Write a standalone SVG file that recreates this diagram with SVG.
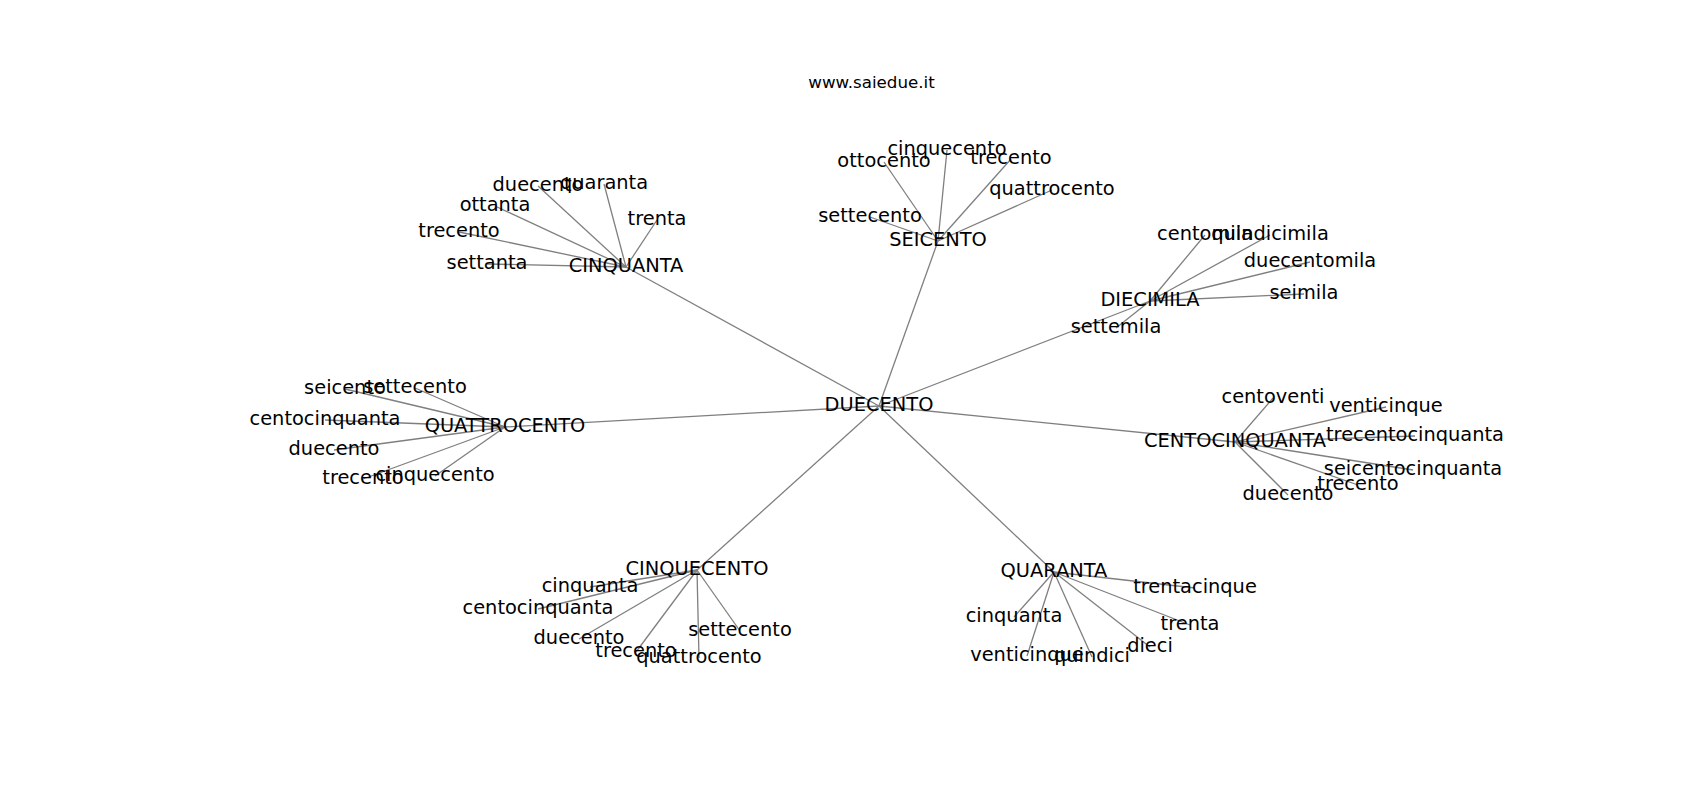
<svg xmlns="http://www.w3.org/2000/svg" width="1700" height="800" viewBox="0 0 1700 800">
<style>
.bg{fill:#ffffff}
.e line{stroke:#7f7f7f;stroke-width:1.3;fill:none}
.n text{font-family:"DejaVu Sans","Liberation Sans",sans-serif;font-size:19.4px;fill:#000000;text-anchor:middle}
.title{font-family:"DejaVu Sans","Liberation Sans",sans-serif;font-size:16.7px;fill:#000000;text-anchor:middle}
</style>
<rect class="bg" x="0" y="0" width="1700" height="800"/>
<text class="title" x="871.5" y="87.5">www.saiedue.it</text>
<g id="edges" class="e">
<line x1="879" y1="406" x2="626" y2="267"/>
<line x1="879" y1="406" x2="938" y2="241"/>
<line x1="879" y1="406" x2="1150" y2="301"/>
<line x1="879" y1="406" x2="505" y2="427"/>
<line x1="879" y1="406" x2="1235" y2="442"/>
<line x1="879" y1="406" x2="697" y2="570"/>
<line x1="879" y1="406" x2="1054" y2="572"/>
<line x1="626" y1="267" x2="487" y2="264"/>
<line x1="626" y1="267" x2="459" y2="232"/>
<line x1="626" y1="267" x2="495" y2="206"/>
<line x1="626" y1="267" x2="538" y2="186"/>
<line x1="626" y1="267" x2="604" y2="184"/>
<line x1="626" y1="267" x2="657" y2="220"/>
<line x1="938" y1="241" x2="947" y2="150"/>
<line x1="938" y1="241" x2="884" y2="162"/>
<line x1="938" y1="241" x2="1011" y2="159"/>
<line x1="938" y1="241" x2="1052" y2="190"/>
<line x1="938" y1="241" x2="870" y2="217"/>
<line x1="1150" y1="301" x2="1205" y2="235"/>
<line x1="1150" y1="301" x2="1270" y2="235"/>
<line x1="1150" y1="301" x2="1310" y2="262"/>
<line x1="1150" y1="301" x2="1304" y2="294"/>
<line x1="1150" y1="301" x2="1116" y2="328"/>
<line x1="505" y1="427" x2="345" y2="389"/>
<line x1="505" y1="427" x2="415" y2="388"/>
<line x1="505" y1="427" x2="325" y2="420"/>
<line x1="505" y1="427" x2="334" y2="450"/>
<line x1="505" y1="427" x2="363" y2="479"/>
<line x1="505" y1="427" x2="435" y2="476"/>
<line x1="1235" y1="442" x2="1273" y2="398"/>
<line x1="1235" y1="442" x2="1386" y2="407"/>
<line x1="1235" y1="442" x2="1415" y2="436"/>
<line x1="1235" y1="442" x2="1413" y2="470"/>
<line x1="1235" y1="442" x2="1358" y2="485"/>
<line x1="1235" y1="442" x2="1288" y2="495"/>
<line x1="697" y1="570" x2="590" y2="587"/>
<line x1="697" y1="570" x2="538" y2="609"/>
<line x1="697" y1="570" x2="579" y2="639"/>
<line x1="697" y1="570" x2="636" y2="652"/>
<line x1="697" y1="570" x2="699" y2="658"/>
<line x1="697" y1="570" x2="740" y2="631"/>
<line x1="1054" y1="572" x2="1195" y2="588"/>
<line x1="1054" y1="572" x2="1014" y2="617"/>
<line x1="1054" y1="572" x2="1190" y2="625"/>
<line x1="1054" y1="572" x2="1027" y2="656"/>
<line x1="1054" y1="572" x2="1092" y2="657"/>
<line x1="1054" y1="572" x2="1150" y2="647"/>
</g>
<g id="n-duecento" class="n"><text x="879" y="411.4">DUECENTO</text></g>
<g id="n-cinquanta" class="n"><text x="626" y="272.4">CINQUANTA</text></g>
<g id="n-cinquanta-settanta" class="n"><text x="487" y="269.4">settanta</text></g>
<g id="n-cinquanta-trecento" class="n"><text x="459" y="237.4">trecento</text></g>
<g id="n-cinquanta-ottanta" class="n"><text x="495" y="211.4">ottanta</text></g>
<g id="n-cinquanta-duecento" class="n"><text x="538" y="191.4">duecento</text></g>
<g id="n-cinquanta-quaranta" class="n"><text x="604" y="189.4">quaranta</text></g>
<g id="n-cinquanta-trenta" class="n"><text x="657" y="225.4">trenta</text></g>
<g id="n-seicento" class="n"><text x="938" y="246.4">SEICENTO</text></g>
<g id="n-seicento-cinquecento" class="n"><text x="947" y="155.4">cinquecento</text></g>
<g id="n-seicento-ottocento" class="n"><text x="884" y="167.4">ottocento</text></g>
<g id="n-seicento-trecento" class="n"><text x="1011" y="164.4">trecento</text></g>
<g id="n-seicento-quattrocento" class="n"><text x="1052" y="195.4">quattrocento</text></g>
<g id="n-seicento-settecento" class="n"><text x="870" y="222.4">settecento</text></g>
<g id="n-diecimila" class="n"><text x="1150" y="306.4">DIECIMILA</text></g>
<g id="n-diecimila-centomila" class="n"><text x="1205" y="240.4">centomila</text></g>
<g id="n-diecimila-quindicimila" class="n"><text x="1270" y="240.4">quindicimila</text></g>
<g id="n-diecimila-duecentomila" class="n"><text x="1310" y="267.4">duecentomila</text></g>
<g id="n-diecimila-seimila" class="n"><text x="1304" y="299.4">seimila</text></g>
<g id="n-diecimila-settemila" class="n"><text x="1116" y="333.4">settemila</text></g>
<g id="n-quattrocento" class="n"><text x="505" y="432.4">QUATTROCENTO</text></g>
<g id="n-quattrocento-seicento" class="n"><text x="345" y="394.4">seicento</text></g>
<g id="n-quattrocento-settecento" class="n"><text x="415" y="393.4">settecento</text></g>
<g id="n-quattrocento-centocinquanta" class="n"><text x="325" y="425.4">centocinquanta</text></g>
<g id="n-quattrocento-duecento" class="n"><text x="334" y="455.4">duecento</text></g>
<g id="n-quattrocento-trecento" class="n"><text x="363" y="484.4">trecento</text></g>
<g id="n-quattrocento-cinquecento" class="n"><text x="435" y="481.4">cinquecento</text></g>
<g id="n-centocinquanta" class="n"><text x="1235" y="447.4">CENTOCINQUANTA</text></g>
<g id="n-centocinquanta-centoventi" class="n"><text x="1273" y="403.4">centoventi</text></g>
<g id="n-centocinquanta-venticinque" class="n"><text x="1386" y="412.4">venticinque</text></g>
<g id="n-centocinquanta-trecentocinquanta" class="n"><text x="1415" y="441.4">trecentocinquanta</text></g>
<g id="n-centocinquanta-seicentocinquanta" class="n"><text x="1413" y="475.4">seicentocinquanta</text></g>
<g id="n-centocinquanta-trecento" class="n"><text x="1358" y="490.4">trecento</text></g>
<g id="n-centocinquanta-duecento" class="n"><text x="1288" y="500.4">duecento</text></g>
<g id="n-cinquecento" class="n"><text x="697" y="575.4">CINQUECENTO</text></g>
<g id="n-cinquecento-cinquanta" class="n"><text x="590" y="592.4">cinquanta</text></g>
<g id="n-cinquecento-centocinquanta" class="n"><text x="538" y="614.4">centocinquanta</text></g>
<g id="n-cinquecento-duecento" class="n"><text x="579" y="644.4">duecento</text></g>
<g id="n-cinquecento-trecento" class="n"><text x="636" y="657.4">trecento</text></g>
<g id="n-cinquecento-quattrocento" class="n"><text x="699" y="663.4">quattrocento</text></g>
<g id="n-cinquecento-settecento" class="n"><text x="740" y="636.4">settecento</text></g>
<g id="n-quaranta" class="n"><text x="1054" y="577.4">QUARANTA</text></g>
<g id="n-quaranta-trentacinque" class="n"><text x="1195" y="593.4">trentacinque</text></g>
<g id="n-quaranta-cinquanta" class="n"><text x="1014" y="622.4">cinquanta</text></g>
<g id="n-quaranta-trenta" class="n"><text x="1190" y="630.4">trenta</text></g>
<g id="n-quaranta-venticinque" class="n"><text x="1027" y="661.4">venticinque</text></g>
<g id="n-quaranta-quindici" class="n"><text x="1092" y="662.4">quindici</text></g>
<g id="n-quaranta-dieci" class="n"><text x="1150" y="652.4">dieci</text></g>
</svg>
